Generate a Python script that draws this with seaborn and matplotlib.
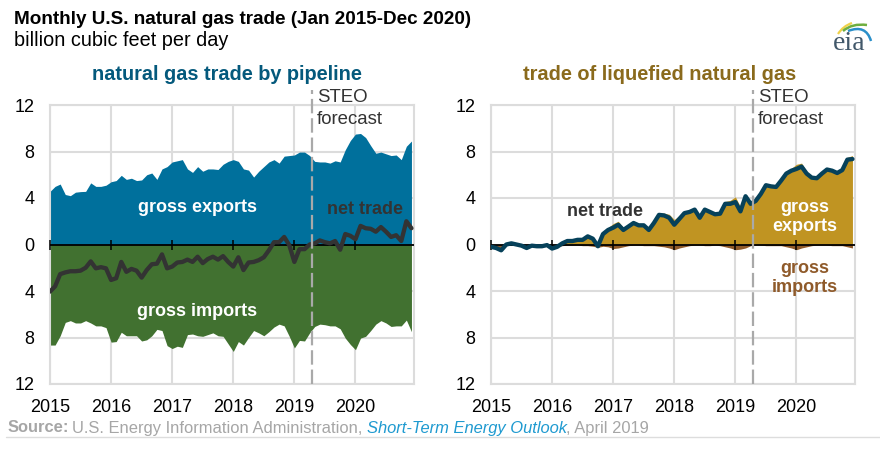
import numpy as np
import pandas as pd
import matplotlib
matplotlib.use("Agg")
import matplotlib.pyplot as plt
from matplotlib.patches import PathPatch
from matplotlib.path import Path
import seaborn as sns

# values, Jan 2015 - Dec 2020, billion cubic feet per day
pipe_exports = [4.57, 5.0, 5.2, 4.3, 4.2, 4.5, 4.55, 4.57, 5.3, 5.0, 5.0, 5.1,
                5.4, 5.5, 5.95, 5.6, 5.7, 5.5, 5.55, 6.0, 6.15, 5.6, 6.5, 6.7,
                7.1, 7.2, 7.3, 6.5, 6.2, 6.7, 6.3, 6.5, 6.5, 6.45, 6.9, 7.15,
                7.3, 7.15, 6.5, 6.4, 5.8, 6.3, 6.7, 7.1, 7.3, 7.0, 7.6, 7.65,
                7.7, 7.95, 7.95, 7.65, 7.15, 7.1, 7.1, 7.0, 7.2, 7.1, 8.15, 8.95,
                9.5, 9.55, 9.2, 8.5, 7.85, 7.95, 7.8, 7.65, 7.7, 7.3, 8.45, 8.9]
pipe_imports = [8.65, 8.65, 7.85, 6.7, 6.55, 6.75, 6.75, 6.55, 6.75, 7.0, 7.0, 7.15,
                8.4, 8.35, 7.55, 7.85, 7.85, 7.85, 8.3, 8.2, 7.85, 7.3, 7.4, 8.7,
                8.95, 8.75, 8.85, 7.75, 7.7, 7.85, 7.9, 7.75, 7.6, 7.85, 7.9, 8.55,
                9.2, 8.35, 8.65, 8.0, 7.4, 7.6, 7.85, 7.5, 7.1, 6.85, 7.0, 7.9,
                8.9, 8.25, 8.3, 7.6, 7.05, 6.85, 6.9, 7.0, 7.0, 7.25, 8.05, 8.6,
                9.05, 8.05, 7.9, 7.4, 6.85, 6.55, 6.75, 7.05, 7.0, 7.0, 6.5, 7.5]
pipe_net = [-4.05, -3.6, -2.55, -2.4, -2.3, -2.3, -2.25, -2.0, -1.45, -2.05, -1.95, -2.05,
            -3.05, -2.9, -1.5, -2.35, -2.1, -2.25, -2.85, -2.2, -1.7, -1.65, -0.85, -2.05,
            -1.9, -1.55, -1.5, -1.3, -1.5, -1.05, -1.6, -1.25, -1.05, -1.3, -1.0, -1.5,
            -1.9, -1.1, -2.2, -1.55, -1.5, -1.35, -1.1, -0.5, 0.2, 0.2, 0.65, -0.05,
            -1.5, -0.4, -0.4, 0.0, 0.1, 0.35, 0.2, 0.1, 0.3, -0.45, 0.9, 0.75,
            0.45, 1.6, 1.4, 1.35, 1.1, 1.5, 1.1, 0.65, 0.8, 0.3, 2.0, 1.4]

lng_exports = [0.0, 0.0, 0.0, 0.1, 0.1, 0.05, 0.0, 0.0, 0.0, 0.0, 0.0, 0.1,
               0.0, 0.0, 0.2, 0.35, 0.35, 0.45, 0.5, 0.8, 0.65, 0.1, 1.05, 1.45,
               1.8, 2.0, 1.45, 1.65, 1.9, 1.7, 1.75, 1.35, 1.95, 2.7, 2.7, 2.6,
               2.15, 2.5, 2.9, 2.9, 3.05, 2.35, 3.05, 2.9, 2.7, 2.75, 3.7, 3.8,
               4.1, 3.25, 4.25, 3.6, 3.8, 4.4, 5.15, 5.05, 5.05, 5.6, 6.3, 6.55,
               6.9, 7.0, 6.3, 5.85, 5.75, 6.15, 6.5, 6.45, 6.25, 6.5, 7.5, 7.65]
lng_imports = [0.2, 0.25, 0.3, 0.1, 0.05, 0.05, 0.1, 0.1, 0.05, 0.05, 0.1, 0.15,
               0.3, 0.2, 0.1, 0.05, 0.05, 0.05, 0.1, 0.1, 0.15, 0.25, 0.15, 0.2,
               0.35, 0.3, 0.2, 0.1, 0.05, 0.05, 0.1, 0.1, 0.1, 0.15, 0.2, 0.3,
               0.45, 0.3, 0.2, 0.1, 0.05, 0.05, 0.1, 0.1, 0.05, 0.1, 0.2, 0.3,
               0.45, 0.4, 0.3, 0.1, 0.05, 0.05, 0.1, 0.1, 0.1, 0.1, 0.2, 0.3,
               0.45, 0.3, 0.2, 0.1, 0.05, 0.05, 0.05, 0.1, 0.1, 0.1, 0.2, 0.3]
lng_net = [-0.2, -0.3, -0.5, 0.0, 0.1, 0.0, -0.1, -0.3, -0.1, -0.15, -0.15, -0.05,
           -0.35, -0.2, 0.1, 0.3, 0.3, 0.4, 0.4, 0.7, 0.5, -0.15, 0.9, 1.25,
           1.45, 1.7, 1.25, 1.55, 1.85, 1.65, 1.65, 1.25, 1.85, 2.55, 2.5, 2.3,
           1.7, 2.2, 2.7, 2.8, 3.0, 2.3, 3.0, 2.8, 2.6, 2.65, 3.5, 3.5,
           3.65, 2.85, 4.15, 3.5, 3.75, 4.35, 5.1, 5.0, 4.95, 5.5, 6.1, 6.35,
           6.5, 6.7, 6.1, 5.75, 5.7, 6.1, 6.45, 6.35, 6.15, 6.4, 7.3, 7.35]

years = [2015, 2016, 2017, 2018, 2019, 2020]
y_ticks = [-12, -8, -4, 0, 4, 8, 12]
y_labels = ["12", "8", "4", "0", "4", "8", "12"]
forecast_start = 51.4  # months after Jan 2015

W, H = 880, 451
GRID = "#dcdcdc"
FONT = ["Liberation Sans", "DejaVu Sans"]

sns.set_style("white")
plt.rcParams["font.family"] = FONT

months = np.arange(len(pipe_net))
year_pos = [(y - years[0]) * 12 for y in years]
pipe = pd.DataFrame({"month": months, "exports": pipe_exports, "imports": pipe_imports, "net": pipe_net})
lng = pd.DataFrame({"month": months, "exports": lng_exports, "imports": lng_imports, "net": lng_net})

fig = plt.figure(figsize=(W / 100, H / 100), dpi=100, facecolor="white")


def px_axes(left, right, top, bottom):
    return fig.add_axes([left / W, 1 - bottom / H, (right - left) / W, (bottom - top) / H])


def label(x, y, s, **kw):
    kw.setdefault("ha", "center")
    kw.setdefault("va", "center")
    fig.text(x / W, 1 - y / H, s, **kw)


def draw_panel(ax, df, exp_color, imp_color, line_color):
    ax.set_axisbelow(True)
    ax.fill_between(df["month"], 0, df["exports"], color=exp_color, lw=0, zorder=2)
    ax.fill_between(df["month"], 0, -df["imports"], color=imp_color, lw=0, zorder=2)
    sns.lineplot(data=df, x="month", y="net", ax=ax, color=line_color, lw=3.1, zorder=4,
                 errorbar=None, solid_joinstyle="round")
    ax.axhline(0, color="black", lw=1.3, zorder=3)
    ax.plot(year_pos, [0] * len(year_pos), ls="", marker="|", ms=7.5, mew=1.1, color="black",
            zorder=3, clip_on=False)
    ax.plot([forecast_start] * 2, [-12, 13.3], color="#a9a9a9", lw=1.6, dashes=(6.5, 2.2),
            zorder=5, clip_on=False)
    ax.set_xlim(0, 71.5)
    ax.set_ylim(-12, 12)
    ax.set_xticks(year_pos, [str(y) for y in years])
    ax.set_yticks(y_ticks, y_labels)
    ax.set_xlabel("")
    ax.set_ylabel("")
    ax.grid(True, color=GRID, lw=1.5)
    ax.tick_params(axis="x", length=0, pad=10.5, labelsize=13, colors="black")
    ax.tick_params(axis="y", length=0, pad=11, labelsize=13, colors="black")
    for sp in ax.spines.values():
        sp.set_visible(True)
        sp.set_color(GRID)
        sp.set_linewidth(1.5)


ax1 = px_axes(50, 414, 105, 384)
ax2 = px_axes(491, 855, 105, 384)
draw_panel(ax1, pipe, "#00709c", "#417130", "#333333")
draw_panel(ax2, lng, "#c09422", "#8f5a2a", "#06415a")

# headings
label(14, 19, "Monthly U.S. natural gas trade (Jan 2015-Dec 2020)", ha="left", fontsize=13.55,
      fontweight="bold", color="black")
label(14, 41, "billion cubic feet per day", ha="left", fontsize=14.3, color="black")
label(227, 74, "natural gas trade by pipeline", fontsize=14.35, fontweight="bold", color="#04597c")
label(660, 74, "trade of liquefied natural gas", fontsize=14.4, fontweight="bold", color="#8a6a1c")

# labels inside the panels
bold = dict(fontsize=13, fontweight="bold")
label(197, 208, "gross exports", color="white", **bold)
label(197, 311, "gross imports", color="white", **bold)
label(365, 210, "net trade", color="#333333", **bold)
label(605, 212, "net trade", color="#333333", **bold)
label(805, 217, "gross\nexports", color="white", linespacing=1.1, **bold)
label(805, 278, "gross\nimports", color="#8f5a2a", linespacing=1.1, **bold)
for x in (317, 758):
    label(x, 97, "STEO", ha="left", fontsize=13.4, color="#333333")
    label(x, 119, "forecast", ha="left", fontsize=13.4, color="#333333")

# source line, pieces placed side by side
src = dict(fontsize=11.9, ha="left")
label(8, 428, "Source:", color="#a6a6a6", fontweight="bold", **src)
label(72, 428, "U.S. Energy Information Administration,", color="#a6a6a6", **src)
label(367, 428, "Short-Term Energy Outlook", color="#1f9ad0", fontstyle="italic", **src)
label(566, 428, ", April 2019", color="#a6a6a6", **src)
fig.add_artist(plt.Line2D([6 / W, 880 / W], [1 - 437 / H] * 2, color="#dddddd", lw=1))

# eia logo
logo = px_axes(820, 880, 10, 60)
logo.set_xlim(820, 880)
logo.set_ylim(60, 10)
logo.axis("off")
for (p0, p1, p2), c, lw in [(((838, 34), (843, 26), (852, 23)), "#f0d24a", 1.6),
                            (((843, 31), (852, 23), (867, 25)), "#6fae3f", 1.8),
                            (((848, 31), (866, 24), (871, 41)), "#2a8fc9", 1.8)]:
    logo.add_patch(PathPatch(Path([p0, p1, p2], [Path.MOVETO, Path.CURVE3, Path.CURVE3]),
                             fc="none", ec=c, lw=lw))
logo.text(849, 43, "eia", ha="center", va="center", fontsize=20, family="Liberation Serif", color="#42586a")

fig.savefig("out.png", dpi=100)
